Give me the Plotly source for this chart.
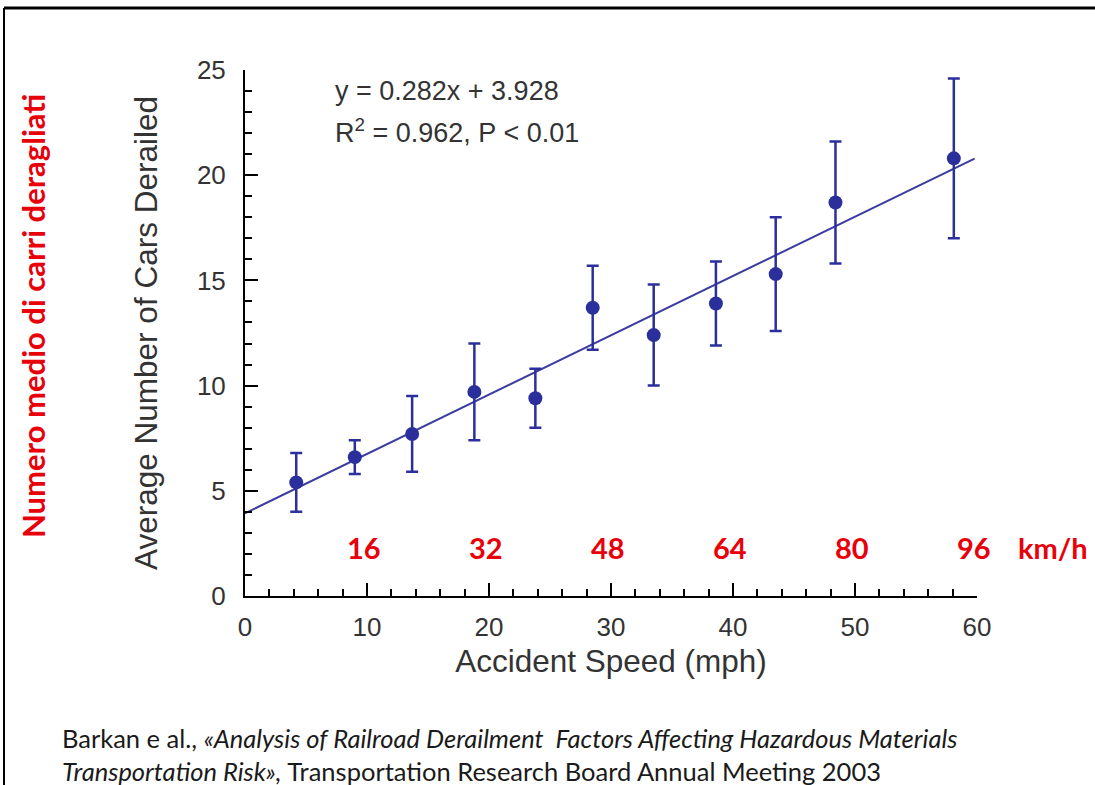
import plotly.graph_objects as go

# ---- data ----
speed_mph = [4.2, 9.0, 13.7, 18.8, 23.8, 28.5, 33.5, 38.6, 43.5, 48.4, 58.1]
mean_cars = [5.4, 6.6, 7.7, 9.7, 9.4, 13.7, 12.4, 13.9, 15.3, 18.7, 20.8]
err_upper = [6.8, 7.4, 9.5, 12.0, 10.8, 15.7, 14.8, 15.9, 18.0, 21.6, 24.6]
err_lower = [4.0, 5.8, 5.9, 7.4, 8.0, 11.7, 10.0, 11.9, 12.6, 15.8, 17.0]

slope = 0.282
intercept = 3.928
fit_x = [0, 59.8]

kmh_labels = ["16", "32", "48", "64", "80", "96"]
kmh_mph_pos = [10, 20, 30, 40, 50, 60]

# ---- layout geometry (pixels) ----
W, H = 1095, 785
L, R, T, B = 245, 1095 - 977, 70, 785 - 596
PW, PH = W - L - R, H - T - B


def px(x):
    return (x - L) / PW


def py(y):
    return (H - B - y) / PH


NAVY = "#2B2F9B"
LINE = "#3C3CA0"
GREY = "#333333"
RED = "#E8000B"

fig = go.Figure()

fig.add_trace(go.Scatter(
    x=fit_x,
    y=[slope * v + intercept for v in fit_x],
    mode="lines",
    line=dict(color=LINE, width=2),
    showlegend=False,
    hoverinfo="skip",
))

fig.add_trace(go.Scatter(
    x=speed_mph,
    y=mean_cars,
    mode="markers",
    marker=dict(color=NAVY, size=14),
    error_y=dict(
        type="data",
        symmetric=False,
        array=[u - m for u, m in zip(err_upper, mean_cars)],
        arrayminus=[m - l for m, l in zip(mean_cars, err_lower)],
        color=NAVY,
        thickness=2.5,
        width=6,
    ),
    showlegend=False,
))

annotations = []
# equation text
annotations.append(dict(
    x=px(333), y=py(91), xref="paper", yref="paper",
    text="y = 0.282x + 3.928", showarrow=False,
    xanchor="left", yanchor="middle",
    font=dict(family="Liberation Sans, Arial", size=27, color=GREY),
))
annotations.append(dict(
    x=px(333), y=py(131), xref="paper", yref="paper",
    text="R<sup>2</sup> = 0.962, P < 0.01", showarrow=False,
    xanchor="left", yanchor="middle",
    font=dict(family="Liberation Sans, Arial", size=27, color=GREY),
))
# km/h labels
for lab, pos in zip(kmh_labels, kmh_mph_pos):
    annotations.append(dict(
        x=pos, y=py(547), xref="x", yref="paper",
        text="<b>" + lab + "</b>", showarrow=False,
        xanchor="center", yanchor="middle", xshift=-3,
        font=dict(family="Lato, Open Sans", size=29, color=RED),
    ))
annotations.append(dict(
    x=px(1053), y=py(547), xref="paper", yref="paper",
    text="<b>km/h</b>", showarrow=False,
    xanchor="center", yanchor="middle",
    font=dict(family="Lato, Open Sans", size=29, color=RED),
))
# red vertical title
annotations.append(dict(
    x=px(33), y=py(316), xref="paper", yref="paper",
    text="<b>Numero medio di carri deragliati</b>", showarrow=False,
    textangle=-90, xanchor="center", yanchor="middle",
    font=dict(family="Lato, Open Sans", size=31, color=RED),
))
# citation
annotations.append(dict(
    x=px(60), y=py(738), xref="paper", yref="paper",
    text="Barkan e al., <i>«Analysis of Railroad Derailment  Factors Affecting Hazardous Materials</i>",
    showarrow=False, xanchor="left", yanchor="middle",
    font=dict(family="Lato, Open Sans", size=25.5, color="#1a1a1a"),
))
annotations.append(dict(
    x=px(60), y=py(771), xref="paper", yref="paper",
    text="<i>Transportation Risk»,</i> Transportation Research Board Annual Meeting 2003",
    showarrow=False, xanchor="left", yanchor="middle",
    font=dict(family="Lato, Open Sans", size=25.5, color="#1a1a1a"),
))

shapes = [
    dict(type="line", xref="paper", yref="paper",
         x0=px(4), x1=px(1095), y0=py(8), y1=py(8),
         line=dict(color="black", width=3)),
    dict(type="line", xref="paper", yref="paper",
         x0=px(4), x1=px(4), y0=py(8), y1=py(785),
         line=dict(color="black", width=2)),
]

axis_font = dict(family="Liberation Sans, Arial", size=26, color=GREY)
title_font = dict(family="Liberation Sans, Arial", size=31.5, color=GREY)

fig.update_layout(
    width=W, height=H,
    margin=dict(l=L, r=R, t=T, b=B),
    paper_bgcolor="white",
    plot_bgcolor="white",
    annotations=annotations,
    shapes=shapes,
    xaxis=dict(
        range=[0, 60], dtick=10, tick0=0,
        showgrid=False, zeroline=False,
        showline=True, linecolor="black", linewidth=2,
        ticks="inside", ticklen=13, tickwidth=1.5, tickcolor="black",
        minor=dict(ticks="inside", ticklen=7, dtick=2, tickwidth=1.5, tickcolor="black", showgrid=False),
        tickfont=axis_font,
        ticklabelstandoff=7,
        title=dict(text="Accident Speed (mph)", font=title_font, standoff=9),
    ),
    yaxis=dict(
        range=[0, 25], dtick=5, tick0=0,
        showgrid=False, zeroline=False,
        showline=True, linecolor="black", linewidth=2,
        ticks="inside", ticklen=13, tickwidth=1.5, tickcolor="black",
        minor=dict(ticks="inside", ticklen=7, dtick=1, tickwidth=1.5, tickcolor="black", showgrid=False),
        tickfont=axis_font,
        ticklabelstandoff=12,
        title=dict(text="Average Number of Cars Derailed", font=title_font, standoff=30),
    ),
)

fig.write_html(
    "out.html",
    config={"displayModeBar": False},
    post_script="document.body.style.margin='0';document.body.style.overflow='hidden';",
)
